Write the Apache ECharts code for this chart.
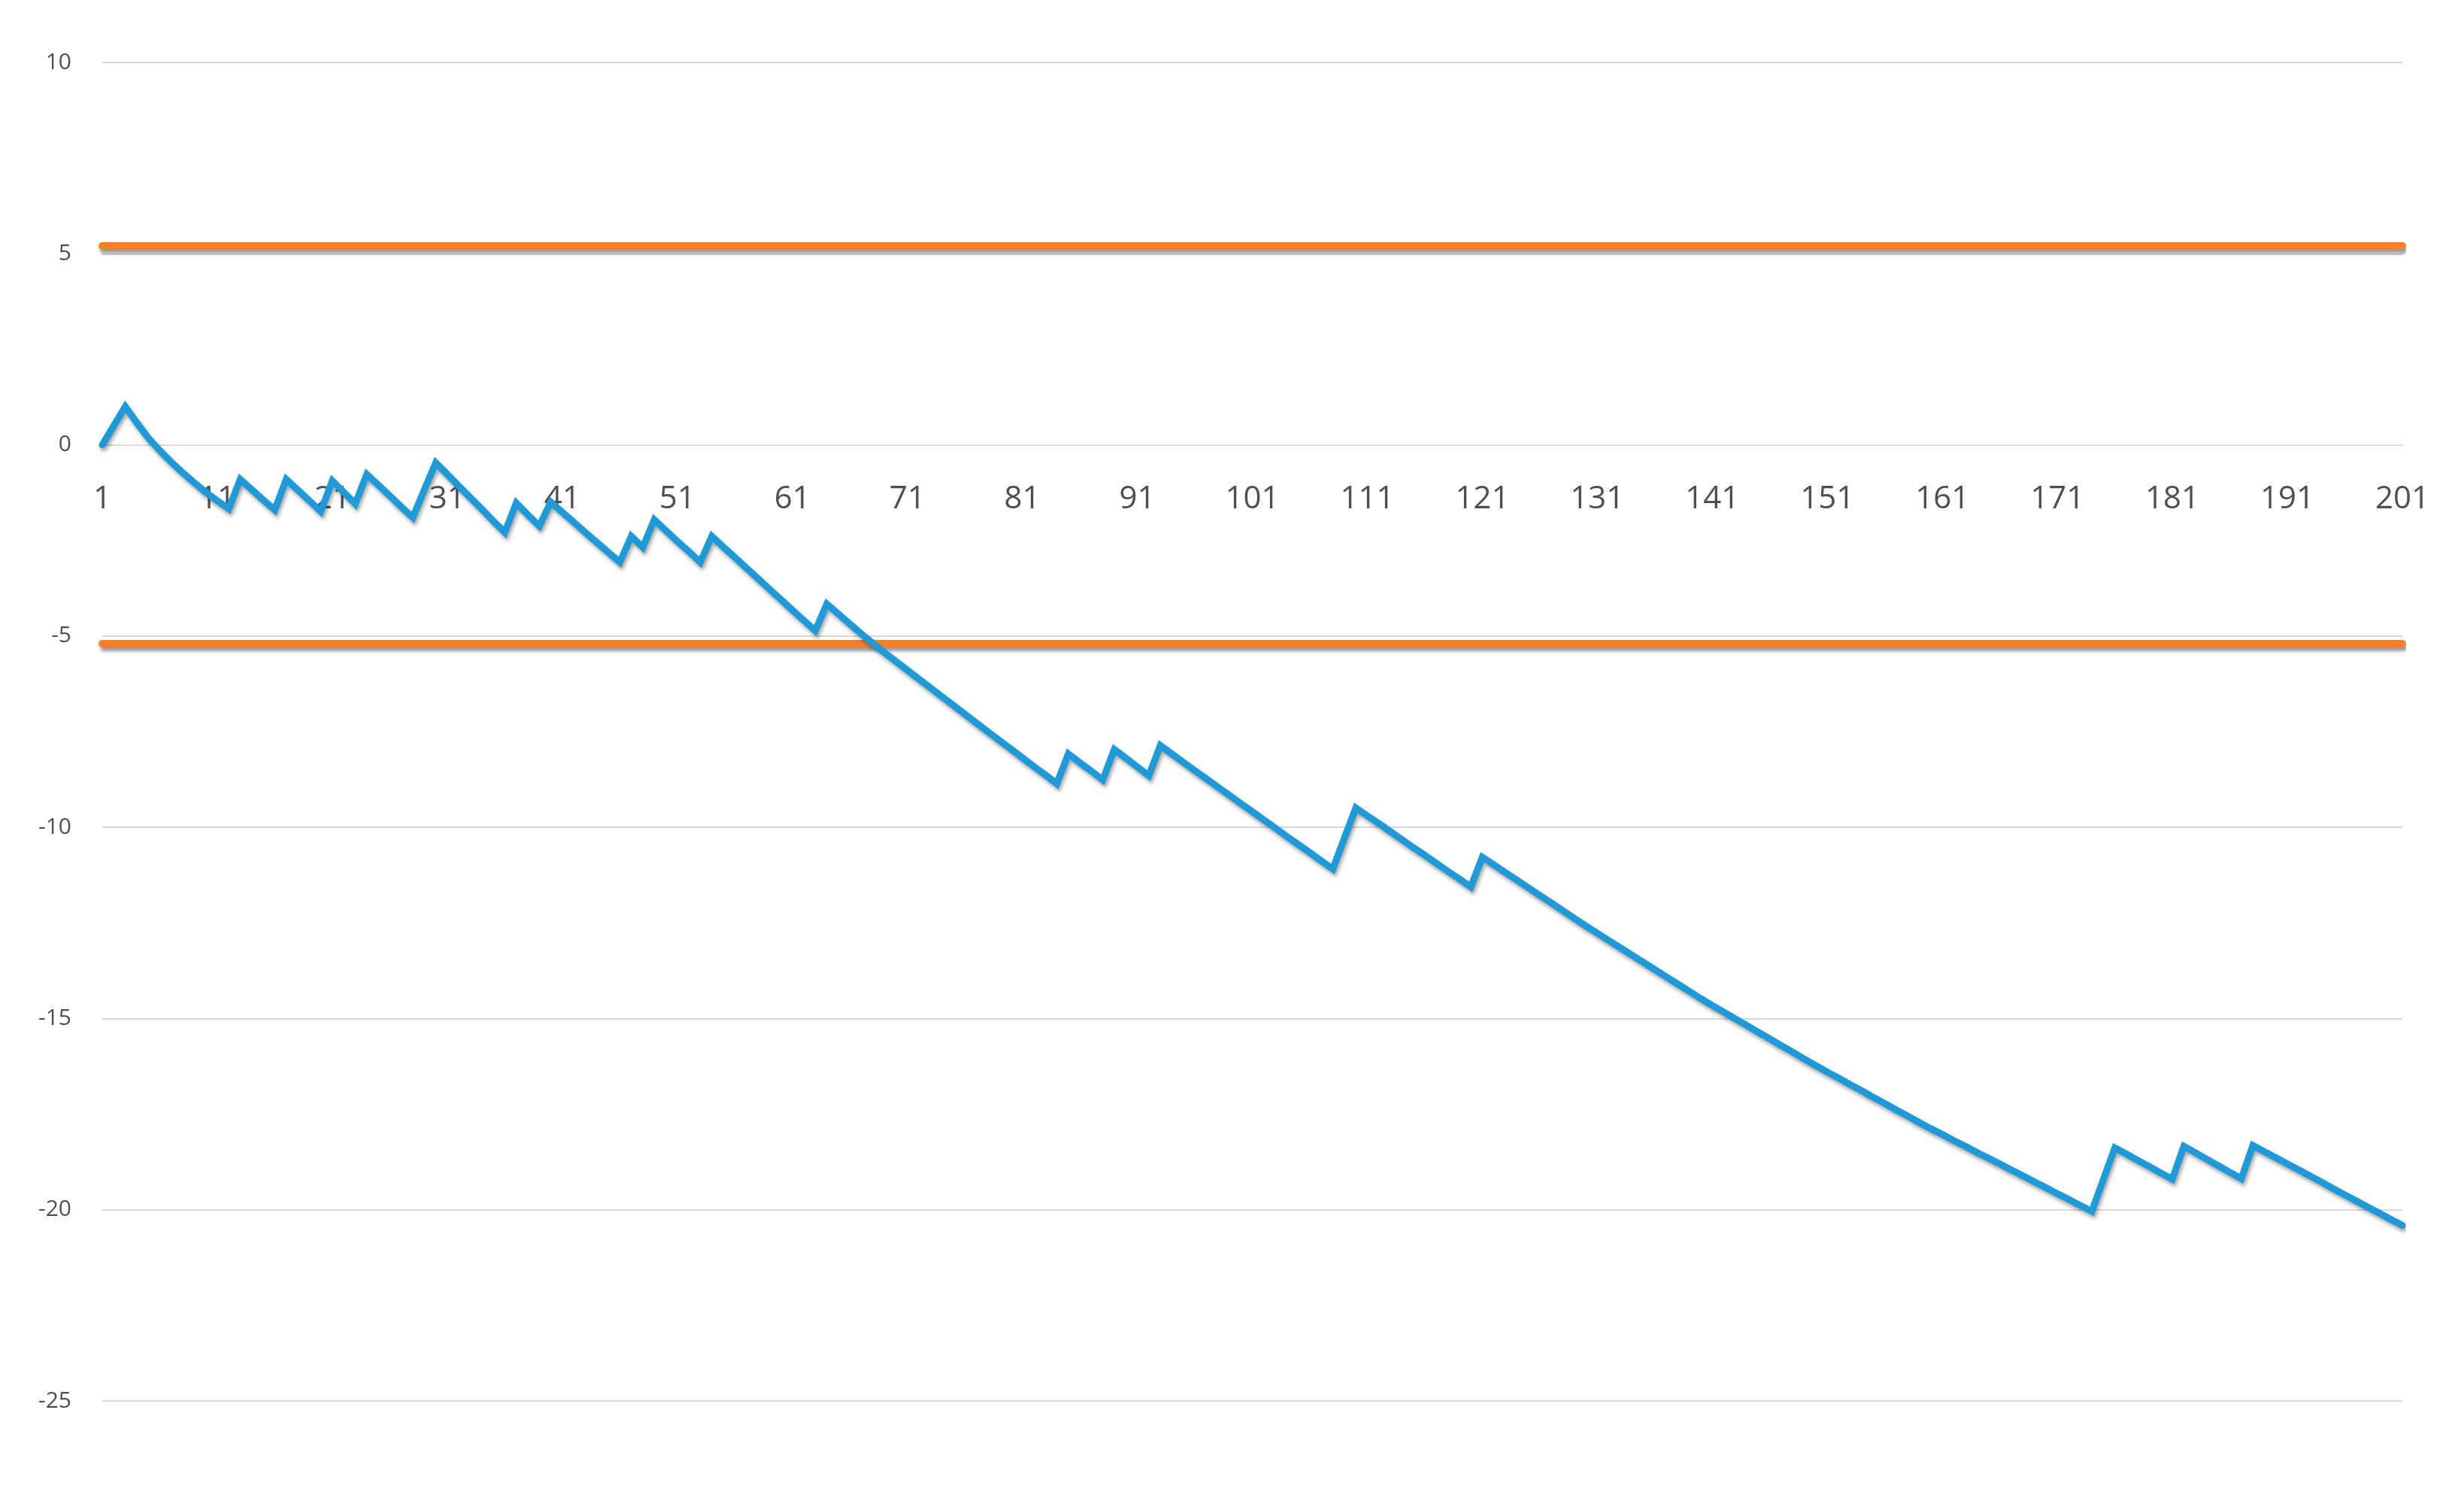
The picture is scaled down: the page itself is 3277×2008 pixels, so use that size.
<!DOCTYPE html>
<html>
<head>
<meta charset="utf-8">
<script src="https://cdn.jsdelivr.net/npm/echarts@6/dist/echarts.min.js"></script>
<style>
html,body{margin:0;padding:0;background:#ffffff;}
#chart{width:3277px;height:2008px;}
</style>
</head>
<body>
<div id="chart"></div>
<script>
// Categories 1..201 (x axis positions)
const categories = Array.from({length: 201}, (_, i) => String(i + 1));
// Y tick labels
const yTicks = [-25, -20, -15, -10, -5, 0, 5, 10];

// Blue series values
const seriesValues = [
  0, 0.5, 1.0, 0.58, 0.18, -0.15, -0.45, -0.73, -0.99, -1.24,
  -1.46, -1.67, -0.90, -1.17, -1.44, -1.70, -0.90, -1.18, -1.46, -1.74,
  -0.94, -1.24, -1.54, -0.77, -1.05, -1.33, -1.62, -1.90, -1.18, -0.47,
  -0.77, -1.08, -1.38, -1.68, -1.99, -2.29, -1.52, -1.83, -2.12, -1.50,
  -1.76, -2.02, -2.29, -2.55, -2.81, -3.07, -2.39, -2.68, -1.96, -2.24,
  -2.52, -2.79, -3.07, -2.39, -2.67, -2.94, -3.22, -3.49, -3.77, -4.04,
  -4.32, -4.59, -4.86, -4.16, -4.42, -4.68, -4.94, -5.19, -5.43, -5.66,
  -5.89, -6.12, -6.35, -6.58, -6.81, -7.04, -7.27, -7.50, -7.73, -7.95,
  -8.18, -8.41, -8.63, -8.86, -8.08, -8.31, -8.53, -8.76, -7.96, -8.19,
  -8.42, -8.65, -7.86, -8.08, -8.30, -8.52, -8.73, -8.95, -9.16, -9.38,
  -9.59, -9.81, -10.02, -10.24, -10.45, -10.66, -10.88, -11.09, -10.29, -9.49,
  -9.70, -9.90, -10.11, -10.32, -10.53, -10.73, -10.94, -11.15, -11.35, -11.56,
  -10.78, -10.98, -11.18, -11.38, -11.58, -11.78, -11.98, -12.18, -12.38, -12.58,
  -12.77, -12.96, -13.15, -13.34, -13.53, -13.72, -13.91, -14.10, -14.29, -14.48,
  -14.66, -14.83, -15.01, -15.18, -15.36, -15.53, -15.71, -15.88, -16.06, -16.23,
  -16.40, -16.56, -16.73, -16.89, -17.06, -17.22, -17.39, -17.55, -17.72, -17.88,
  -18.03, -18.19, -18.34, -18.50, -18.65, -18.80, -18.96, -19.11, -19.27, -19.42,
  -19.58, -19.73, -19.89, -20.04, -19.21, -18.38, -18.54, -18.71, -18.87, -19.04,
  -19.20, -18.34, -18.51, -18.68, -18.85, -19.02, -19.19, -18.32, -18.48, -18.64,
  -18.80, -18.96, -19.12, -19.28, -19.45, -19.61, -19.77, -19.93, -20.09, -20.25,
  -20.41
];

// Orange limit lines (endpoints at first and last category)
const limitEnds = ['1', '201'];
const upperLimit = [5.2, 5.2];
const lowerLimit = [-5.2, -5.2];

// Value at which the category axis crosses the value axis
const axisCrossValue = 0;
const yMin = -25;
const yMax = 10;

const chart = echarts.init(document.getElementById('chart'), null, {renderer: 'canvas'});

const labelColor = '#4f4f4f';
const gridColor = '#d9d9d9';
const fontFamily = "'Open Sans', 'Noto Sans', sans-serif";

const limitStyle = {
  color: '#ff7f27',
  width: 10,
  cap: 'round',
  shadowColor: 'rgba(0,0,0,0.4)',
  shadowBlur: 4,
  shadowOffsetX: 2,
  shadowOffsetY: 5
};

chart.setOption({
  backgroundColor: '#ffffff',
  animation: false,
  grid: {
    left: 136,
    right: 82,
    top: 83,
    bottom: 145,
    containLabel: false,
    outerBoundsMode: 'none'
  },
  xAxis: {
    type: 'category',
    data: categories,
    boundaryGap: false,
    offset: 0,
    axisLine: {show: true, onZero: false, lineStyle: {color: gridColor, width: 2}},
    axisTick: {show: false},
    axisLabel: {
      interval: 9,
      color: labelColor,
      fontSize: 42,
      fontFamily: fontFamily,
      margin: 51
    },
    splitLine: {show: false}
  },
  yAxis: {
    type: 'value',
    min: yMin,
    max: yMax,
    interval: 5,
    axisLine: {show: false},
    axisTick: {show: false},
    axisLabel: {
      color: labelColor,
      fontSize: 30,
      fontFamily: fontFamily,
      margin: 41,
      formatter: function (v) { return yTicks.indexOf(v) >= 0 ? String(v) : ''; }
    },
    splitLine: {show: true, lineStyle: {color: gridColor, width: 2}}
  },
  series: [
    {
      name: 'upper',
      type: 'line',
      data: limitEnds.map((c, i) => [c, upperLimit[i]]),
      showSymbol: false,
      symbol: 'none',
      lineStyle: limitStyle,
      z: 3
    },
    {
      name: 'lower',
      type: 'line',
      data: limitEnds.map((c, i) => [c, lowerLimit[i]]),
      showSymbol: false,
      symbol: 'none',
      lineStyle: limitStyle,
      z: 3
    },
    {
      name: 'value',
      type: 'line',
      data: seriesValues,
      showSymbol: false,
      symbol: 'none',
      lineStyle: {
        color: '#1f9ad8',
        width: 9,
        join: 'miter',
        cap: 'round',
        shadowColor: 'rgba(0,0,0,0.35)',
        shadowBlur: 5,
        shadowOffsetX: 2,
        shadowOffsetY: 4
      },
      z: 4
    }
  ]
});

// Move the category axis up to the zero line using the library's own scale
const bottomPx = chart.convertToPixel({yAxisIndex: 0}, yMin);
const zeroPx = chart.convertToPixel({yAxisIndex: 0}, axisCrossValue);
chart.setOption({xAxis: {offset: -(bottomPx - zeroPx)}});
</script>
</body>
</html>
